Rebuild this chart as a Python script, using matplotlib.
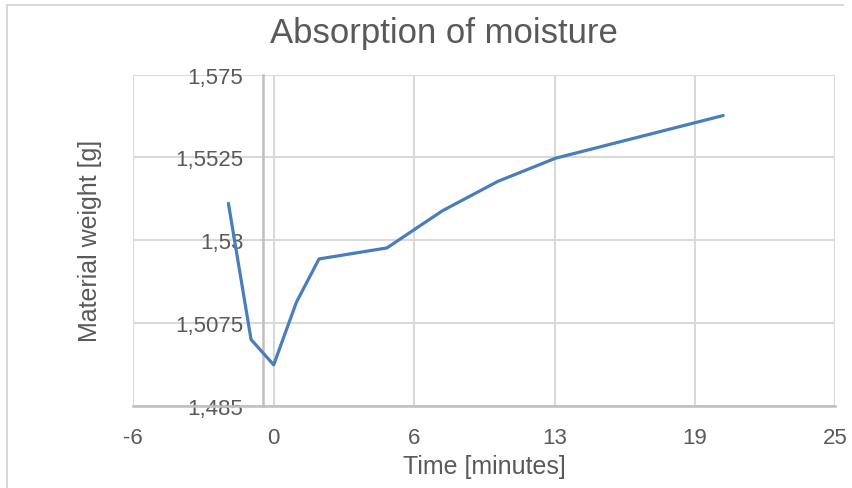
import numpy as np
import matplotlib
matplotlib.use("Agg")
import matplotlib.pyplot as plt
from matplotlib.lines import Line2D

plt.rcParams["font.family"] = ["Liberation Sans", "DejaVu Sans"]

# measurements
time_min = [-1.8, -0.8, 0.2, 1.2, 2.2, 5.2, 7.65, 10.1, 12.65, 20.05]
weight_g = [1.5400, 1.5030, 1.4961, 1.5131, 1.5249, 1.5279, 1.5380, 1.5460, 1.5523, 1.5639]

x_ticks = np.linspace(-6, 25, 6)
x_labels = [f"{v:.0f}" for v in x_ticks]
y_ticks = [1.485, 1.5075, 1.53, 1.5525, 1.575]
y_labels = ["1,485", "1,5075", "1,53", "1,5525", "1,575"]
y_axis_at = -0.29

text_col = "#595959"
grid_col = "#d9d9d9"
axis_col = "#bfbfbf"

W, H = 853, 489
fig = plt.figure(figsize=(W / 100, H / 100), dpi=100)
ax = fig.add_axes([133.3 / W, 1 - 406.7 / H, (835.3 - 133.3) / W, (406.7 - 75.7) / H])

ax.plot(time_min, weight_g, color="#4a7dbb", lw=2.3, solid_capstyle="round",
        solid_joinstyle="round", zorder=5)

ax.set_xlim(-6, 25)
ax.set_ylim(1.485, 1.575)
ax.set_xticks(x_ticks)
ax.set_xticklabels(x_labels)
ax.set_yticks(y_ticks)
ax.set_yticklabels(y_labels)
ax.grid(True, color=grid_col, lw=1.5)
ax.set_axisbelow(True)

for s in ["top", "right"]:
    ax.spines[s].set_visible(False)
ax.spines["left"].set_position(("data", y_axis_at))
ax.spines["left"].set_color(axis_col)
ax.spines["left"].set_linewidth(1.8)
ax.spines["bottom"].set_color(axis_col)
ax.spines["bottom"].set_linewidth(1.8)

ax.tick_params(axis="both", length=0, labelsize=16, labelcolor=text_col)
ax.tick_params(axis="y", pad=14)
ax.tick_params(axis="x", pad=15)

fig.text(444 / W, 1 - 33 / H, "Absorption of moisture", fontsize=25,
         color=text_col, ha="center", va="center")
fig.text(484 / W, 1 - 467 / H, "Time [minutes]", fontsize=18,
         color=text_col, ha="center", va="center")
fig.text(90 / W, 1 - 241 / H, "Material weight [g]", fontsize=18,
         color=text_col, ha="center", va="center", rotation=90)

# chart area border (left and top edges)
fig.add_artist(Line2D([7 / W, 7 / W], [0, 1 - 6 / H], color=grid_col, lw=1.5,
                      transform=fig.transFigure))
fig.add_artist(Line2D([7 / W, 843 / W], [1 - 6 / H, 1 - 6 / H], color=grid_col,
                      lw=1.5, transform=fig.transFigure))

fig.savefig("out.png", dpi=100)
